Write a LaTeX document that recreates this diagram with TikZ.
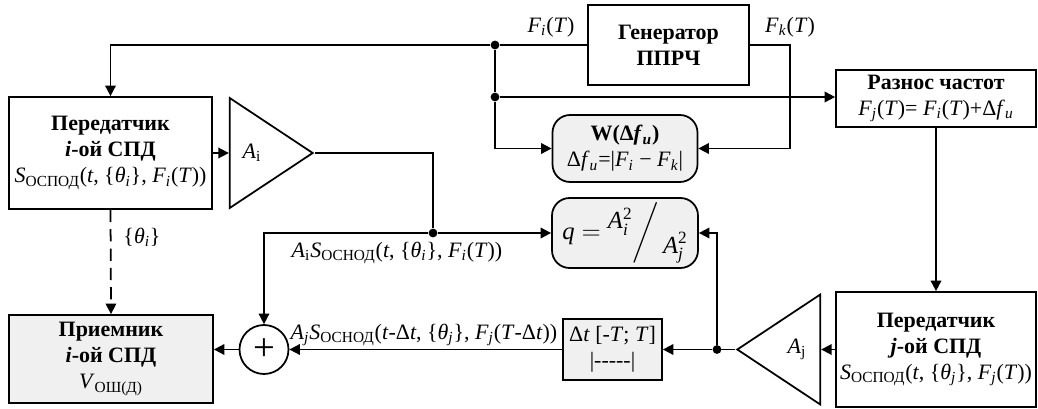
\documentclass[tikz,border=0pt]{standalone}
\usepackage{fontspec}
\setmainfont{Liberation Serif}
\usepackage{amsmath}
\usepackage{tikz}
\usetikzlibrary{arrows.meta, positioning, shapes.geometric, calc}
\usepackage{xcolor}
\definecolor{cinza}{RGB}{240, 240, 240}
\newcommand{\indx}[1]{\textsubscript{#1}}
\newcommand{\txit}[1]{\text{\textit{#1}}}
\tikzset{
  caixa/.style={
    draw, line width=1pt, minimum width=4cm, minimum height=2.2cm,
    align=center, inner sep=2pt
  },
  caixaR/.style={caixa, rounded corners=10pt, fill=cinza},
  caixaG/.style={caixa, fill=cinza},
  amplif/.style={
    draw, line width=1pt, isosceles triangle, isosceles triangle stretches,
    inner sep=0pt, minimum height=1.66cm, minimum width=2.2cm
  },
  ponto/.style={circle, fill=black, inner sep=0pt, minimum size=5pt},
  linha/.style={line width=1pt},
  seta/.style={-{Triangle[length=6pt, width=6pt]}, line width=1pt},
}

\begin{document}
\begin{tikzpicture}[
    x=0.02cm, y=-0.02cm,
    font=\fontsize{12.5}{14.8}\selectfont,
    rotulo/.style={inner sep=1pt}
]
\useasboundingbox (0,0) rectangle (1038,409);

% Sistema i
\node[caixa, minimum width=4.06cm, minimum height=2.24cm] (pi) at (110.5,153)
{\textbf{Передатчик}\\
 \textbf{\textit{i}-ой СПД}\\
 \textit{S}\indx{ОСПОД}(\textit{t}, \{\textit{θ}\indx{\textit{i}}\}, \textit{F}\indx{\textit{i}}(\textit{T}))};
\node[amplif, anchor=apex] (ai) at (315,153) {};
\node (rai) at (252,153) {\textit{A}\indx{i}};

\node[caixaG, minimum width=4.08cm, minimum height=1.76cm] (rec) at (111,359)
{\textbf{Приемник}\\
 \textbf{\textit{i}-ой СПД}\\
 \textit{V}\indx{ОШ(Д)}};
\node[draw, circle, line width=1pt, minimum size=0.98cm, inner sep=0pt] (soma) at (264,349.5)
{\fontsize{22}{22}\selectfont +};

% Generator e blocos centrais
\node[caixa, minimum width=3.22cm, minimum height=1.6cm] (gen) at (668.5,45)
{\textbf{Генератор}\\ \textbf{ППРЧ}};
\node[caixaR, minimum width=2.9cm, minimum height=1.34cm] (w) at (625,148.5)
{\textbf{W(Δ\textit{f}\indx{\textit{и}})}\\
 Δ\textit{f}\indx{\textit{и}}=|\textit{F}\indx{\textit{i}} − \textit{F}\indx{\textit{k}}|};
\node[caixaR, minimum width=2.92cm, minimum height=1.4cm, font=\fontsize{14}{16}\selectfont] (q) at (625,233)
{$\txit{q} = \raisebox{6pt}{$\txit{A}^{\text{2}}_{\txit{i}}$}\bigg/\,\raisebox{-8pt}{$\txit{A}^{\text{2}}_{\txit{j}}$}$};
\node[caixaG, minimum width=1.98cm, minimum height=1.22cm] (atraso) at (612.5,349.5)
{Δ\textit{t} [-\textit{T}; \textit{T}]\\ |-{}-{}-{}-{}-|};

% Sistema j
\node[caixa, minimum width=4cm, minimum height=1.14cm] (raz) at (936,98.5)
{\textbf{Разнос частот}\\
 \textit{F}\indx{\textit{j}}(\textit{T})= \textit{F}\indx{\textit{i}}(\textit{T})+Δ\textit{f}\indx{\textit{и}}};
\node[caixa, minimum width=4cm, minimum height=2.3cm] (pj) at (936,349.5)
{\textbf{Передатчик}\\
 \textbf{\textit{j}-ой СПД}\\
 \textit{S}\indx{ОСПОД}(\textit{t}, \{\textit{θ}\indx{\textit{j}}\}, \textit{F}\indx{\textit{j}}(\textit{T}))};
\node[amplif, shape border rotate=180, anchor=apex] (aj) at (735,349.5) {};
\node (raj) at (797,349.5) {\textit{A}\indx{j}};

% Pontos de ligacao
\node[ponto] (d1) at (495,45) {};
\node[ponto] (d2) at (495,97) {};
\node[ponto] (di) at (433,233) {};
\node[ponto] (dj) at (717,349.5) {};
\coordinate (fk) at (790,45);

% Ligacoes
\draw[seta] (d1) -| (pi.north);
\draw[linha] (d1) -- (gen.west);
\draw[seta] (gen.east) -- (fk) |- (w.east);
\draw[linha] (d1) -- (d2);
\draw[seta] (d2) |- (w.west);
\draw[seta] (d2) -- (d2 -| raz.west);
\draw[seta] (raz.south) -- (pj.north);
\draw[seta] (pj.west) -- (aj.lower side);
\draw[linha] (aj.apex) -- (dj.center);
\draw[seta] (dj) -- (atraso.east);
\draw[seta] (dj) |- (q.east);
\draw[seta] (pi.east) -- (ai.lower side);
\draw[linha] (ai.apex) -| (di);
\draw[seta] (di) -- (q.west);
\draw[seta] (di) -| (soma.north);
\draw[seta] (atraso.west) -- (soma.east);
\draw[seta] (soma.west) -- (soma.west -| rec.east);
\draw[seta, dash pattern=on 7pt off 4pt] (pi.south) -- (rec.north);

% Rotulos
\node[rotulo] (lfi) at (551,27) {\textit{F}\indx{\textit{i}}(\textit{T})};
\node[rotulo] (lfk) at (790,27) {\textit{F}\indx{\textit{k}}(\textit{T})};
\node[rotulo] (lteta) at (142,237) {\{\textit{θ}\indx{\textit{i}}\}};
\node[rotulo] (lsi) at (397,253)
{\textit{A}\indx{i}\textit{S}\indx{ОСНОД}(\textit{t}, \{\textit{θ}\indx{\textit{i}}\}, \textit{F}\indx{\textit{i}}(\textit{T}))};
\node[rotulo, anchor=south] (lsj) at (424,348)
{\textit{A}\indx{\textit{j}}\textit{S}\indx{ОСНОД}(\textit{t}-Δ\textit{t}, \{\textit{θ}\indx{\textit{j}}\}, \textit{F}\indx{\textit{j}}(\textit{T}-Δ\textit{t}))};

\end{tikzpicture}
\end{document}
